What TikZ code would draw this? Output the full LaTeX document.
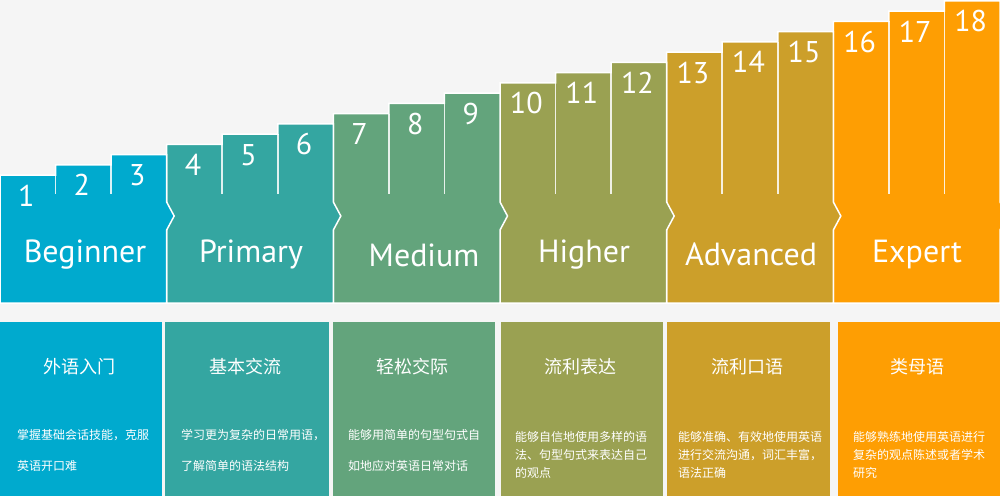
\documentclass[tikz,border=0pt]{standalone}
\usepackage{fontspec}
\setmainfont{PT Sans}
\newfontfamily\cjk{Noto Sans CJK SC}
\definecolor{pagebg}{HTML}{F5F5F5}
\definecolor{lvone}{HTML}{00AACE}
\definecolor{lvtwo}{HTML}{34A6A1}
\definecolor{lvthree}{HTML}{63A47C}
\definecolor{lvfour}{HTML}{9AA152}
\definecolor{lvfive}{HTML}{CC9F2A}
\definecolor{lvsix}{HTML}{FE9E03}

\begin{document}
\begin{tikzpicture}[x=1pt,y=-1pt,
    stepnum/.style={text=white,font=\fontsize{30}{30}\selectfont,anchor=base,inner sep=0pt},
    levelname/.style={text=white,font=\fontsize{32}{32}\selectfont,anchor=base,inner sep=0pt},
    boxtitle/.style={text=white,font=\cjk\fontsize{18}{18}\selectfont,inner sep=0pt},
    boxtext/.style={text=white,font=\cjk\fontsize{12}{#1}\selectfont,align=left,anchor=north west,inner sep=0pt},
    divider/.style={draw=white,line width=1.5pt}]
  \fill[pagebg] (0,0) rectangle (1000,496);
  \useasboundingbox (0,0) rectangle (1000,496);

  % stairs: bar width 55.556, bar 1 top at y=175, each bar 10.25 higher
  % drawn right to left so that each chevron lies over the next group
  \foreach \g/\col in {5/lvsix,4/lvfive,3/lvfour,2/lvthree,1/lvtwo,0/lvone} {
    \pgfmathsetmacro{\xa}{\g*3*55.556}
    \pgfmathsetmacro{\xb}{\xa+55.556}
    \pgfmathsetmacro{\xc}{\xa+2*55.556}
    \pgfmathsetmacro{\xd}{\xa+3*55.556}
    \pgfmathsetmacro{\ta}{175-10.25*3*\g}
    \pgfmathsetmacro{\tb}{\ta-10.25}
    \pgfmathsetmacro{\tc}{\ta-20.5}
    \filldraw[divider,fill=\col] (\xa,303) -- (\xa,\ta) -- (\xb,\ta) -- (\xb,\tb)
      -- (\xc,\tb) -- (\xc,\tc) -- (\xd,\tc) -- (\xd,202) -- (\xd+7.5,216)
      -- (\xd,230) -- (\xd,303) -- cycle;
  }
  % thin lines between bars of one group
  \foreach \k in {0,1,3,4,6,7,9,10,12,13,15,16}
    \draw[divider,opacity=0.85] ({(\k+1)*55.556},{175-10.25*\k}) -- ({(\k+1)*55.556},194);

  % step numbers, baseline 31 below bar top
  \foreach \k in {1,...,18}
    \node[stepnum] (num\k) at ({(\k-0.5)*55.556-1.5},{175-10.25*(\k-1)+31}) {\k};

  \foreach \name/\x/\y [count=\i] in {Beginner/85/262,Primary/251/262,Medium/424/266,
      Higher/584/262,Advanced/751/265,Expert/917/262}
    \node[levelname] (level\i) at (\x,\y) {\name};

  % lower boxes
  \foreach \col/\xa/\xb in {lvone/0/162,lvtwo/165/329,lvthree/333/495,
      lvfour/501/663,lvfive/667/830,lvsix/838/1000}
    \fill[\col] (\xa,322) rectangle (\xb,496);

  \node[boxtitle] (title1) at (79,367) {外语入门};
  \node[boxtitle] (title2) at (245,367) {基本交流};
  \node[boxtitle] (title3) at (412,367) {轻松交际};
  \node[boxtitle] (title4) at (580,367) {流利表达};
  \node[boxtitle] (title5) at (747,367) {流利口语};
  \node[boxtitle] (title6) at (917,367) {类母语};

  \node[boxtext=31] (desc1) at (17,429) {掌握基础会话技能，克服\\英语开口难};
  \node[boxtext=31] (desc2) at (181,429) {学习更为复杂的日常用语，\\了解简单的语法结构};
  \node[boxtext=31] (desc3) at (348,429) {能够用简单的句型句式自\\如地应对英语日常对话};
  \node[boxtext=18] (desc4) at (515,431) {能够自信地使用多样的语\\法、句型句式来表达自己\\的观点};
  \node[boxtext=18] (desc5) at (678,431) {能够准确、有效地使用英语\\进行交流沟通，词汇丰富，\\语法正确};
  \node[boxtext=18] (desc6) at (853,431) {能够熟练地使用英语进行\\复杂的观点陈述或者学术\\研究};
\end{tikzpicture}
\end{document}
